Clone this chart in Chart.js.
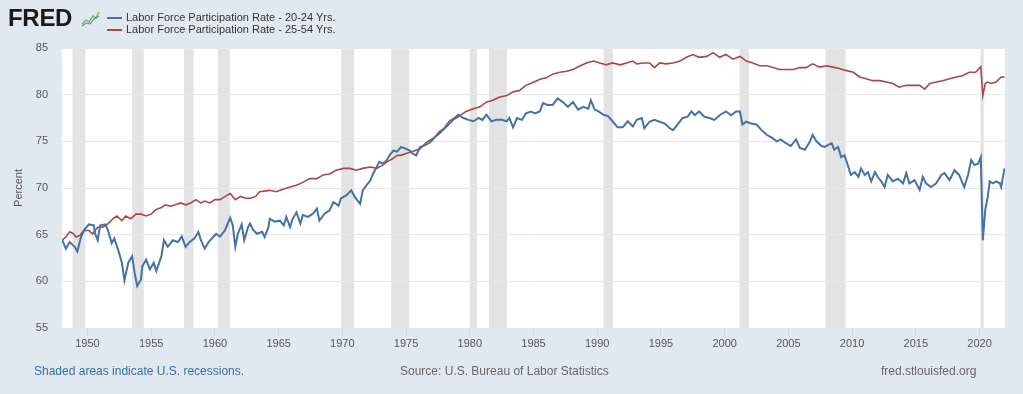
<!DOCTYPE html>
<html>
<head>
<meta charset="utf-8">
<script src="https://cdn.jsdelivr.net/npm/chart.js@4/dist/chart.umd.min.js"></script>
<style>
  html, body { margin: 0; padding: 0; }
  body { width: 1023px; height: 394px; background: #e1e9f0; font-family: "Liberation Sans", Arial, sans-serif; position: relative; overflow: hidden; }
  #chart { position: absolute; left: 0; top: 0; }
  .logo { position: absolute; left: 8px; top: 4px; font-size: 24px; font-weight: 900; color: #1a1a1a; letter-spacing: -0.3px; }
  .logo svg { position: absolute; left: 73px; top: 6px; }
  .legend { position: absolute; left: 107px; top: 12px; font-size: 11px; color: #333; line-height: 11.5px; }
  .legend div { position: relative; padding-left: 19px; white-space: nowrap; }
  .legend span { position: absolute; left: 0; top: 5px; width: 15px; height: 2px; }
  .foot { position: absolute; top: 364px; font-size: 12px; white-space: nowrap; }
</style>
</head>
<body>
<canvas id="chart" width="1023" height="394"></canvas>
<div class="logo">FRED<svg width="19" height="17" viewBox="0 0 19 17">
  <rect x="0" y="0" width="19" height="17" fill="#dfe6ee"/>
  <polyline points="1,14 5,10 8,12 12,6 15,8 18,2" fill="none" stroke="#7fb24a" stroke-width="1.3"/>
  <polyline points="1,16 5,13 9,14 13,9 18,6" fill="none" stroke="#5b86b8" stroke-width="1.1"/>
</svg></div>
<div class="legend">
  <div><span style="background:#4572a7"></span>Labor Force Participation Rate - 20-24 Yrs.</div>
  <div><span style="background:#aa4643"></span>Labor Force Participation Rate - 25-54 Yrs.</div>
</div>
<div class="foot" style="left:34px;color:#3a6ea5">Shaded areas indicate U.S. recessions.</div>
<div class="foot" style="left:400px;color:#666">Source: U.S. Bureau of Labor Statistics</div>
<div class="foot" style="left:881px;color:#666">fred.stlouisfed.org</div>

<script>
// Labor force participation rate, 20-24 yrs (decimal year / percent)
const youngYears = [1948.0, 1948.3, 1948.6, 1949.0, 1949.2, 1949.5, 1949.75, 1950.1, 1950.5, 1950.6, 1950.8, 1951.0, 1951.4, 1951.6, 1951.9, 1952.1, 1952.4, 1952.7, 1952.9, 1953.2, 1953.5, 1953.7, 1953.9, 1954.2, 1954.3, 1954.6, 1954.9, 1955.2, 1955.4, 1955.8, 1956.0, 1956.3, 1956.7, 1957.1, 1957.4, 1957.7, 1958.0, 1958.4, 1958.7, 1958.9, 1959.2, 1959.5, 1959.9, 1960.1, 1960.4, 1960.8, 1961.2, 1961.4, 1961.6, 1961.8, 1962.1, 1962.3, 1962.6, 1962.75, 1963.0, 1963.3, 1963.7, 1963.9, 1964.2, 1964.3, 1964.7, 1965.1, 1965.4, 1965.6, 1965.9, 1966.1, 1966.4, 1966.7, 1966.9, 1967.3, 1967.7, 1968.0, 1968.2, 1968.6, 1969.0, 1969.3, 1969.7, 1969.9, 1970.3, 1970.7, 1971.0, 1971.4, 1971.6, 1971.9, 1972.2, 1972.4, 1972.7, 1972.9, 1973.2, 1973.5, 1973.7, 1974.0, 1974.3, 1974.6, 1975.0, 1975.3, 1975.5, 1975.8, 1976.1, 1976.5, 1976.9, 1977.3, 1977.6, 1978.0, 1978.4, 1978.8, 1979.1, 1979.5, 1979.9, 1980.3, 1980.7, 1981.0, 1981.3, 1981.7, 1982.1, 1982.5, 1982.9, 1983.1, 1983.4, 1983.7, 1984.1, 1984.4, 1984.8, 1985.1, 1985.5, 1985.75, 1986.1, 1986.5, 1986.9, 1987.3, 1987.7, 1988.1, 1988.5, 1988.9, 1989.3, 1989.5, 1989.8, 1990.1, 1990.5, 1990.85, 1991.2, 1991.6, 1992.0, 1992.4, 1992.8, 1993.1, 1993.5, 1993.7, 1994.1, 1994.5, 1994.9, 1995.3, 1995.7, 1995.95, 1996.3, 1996.7, 1997.1, 1997.4, 1997.65, 1998.0, 1998.4, 1998.8, 1999.2, 1999.6, 2000.1, 2000.5, 2000.9, 2001.2, 2001.4, 2001.7, 2002.1, 2002.5, 2002.9, 2003.3, 2003.7, 2004.1, 2004.4, 2004.8, 2005.2, 2005.6, 2005.9, 2006.3, 2006.7, 2006.9, 2007.2, 2007.6, 2007.85, 2008.1, 2008.4, 2008.6, 2008.9, 2009.15, 2009.4, 2009.7, 2009.9, 2010.2, 2010.5, 2010.7, 2011.0, 2011.25, 2011.5, 2011.8, 2012.0, 2012.3, 2012.55, 2012.8, 2013.2, 2013.6, 2014.0, 2014.25, 2014.5, 2014.9, 2015.3, 2015.55, 2015.8, 2016.2, 2016.6, 2017.0, 2017.25, 2017.65, 2018.04, 2018.4, 2018.8, 2019.1, 2019.35, 2019.6, 2019.9, 2020.1, 2020.26, 2020.45, 2020.65, 2020.8, 2021.05, 2021.3, 2021.6, 2021.7, 2021.96];
const youngValues = [64.5, 63.5, 64.2, 63.7, 63.2, 64.8, 65.5, 66.1, 66.0, 65.1, 64.4, 66.0, 66.1, 65.5, 64.1, 64.6, 63.4, 62.0, 60.1, 62.0, 62.7, 60.9, 59.5, 60.2, 61.6, 62.3, 61.3, 62.0, 61.1, 62.7, 64.4, 63.7, 64.4, 64.2, 64.8, 63.7, 64.2, 64.6, 65.3, 64.4, 63.5, 64.2, 64.8, 65.1, 64.8, 65.5, 66.8, 66.0, 63.7, 65.1, 66.1, 64.4, 65.8, 66.2, 65.5, 65.1, 65.3, 64.75, 65.8, 66.7, 66.4, 66.5, 66.0, 66.9, 65.8, 66.7, 67.4, 66.2, 67.1, 66.9, 67.25, 67.8, 66.5, 67.25, 67.6, 68.5, 68.1, 68.9, 69.2, 69.75, 69.0, 68.3, 69.75, 70.3, 70.8, 71.5, 72.25, 72.8, 72.6, 73.0, 73.5, 74.0, 73.9, 74.4, 74.2, 74.0, 73.7, 73.5, 74.4, 74.6, 74.9, 75.5, 76.0, 76.4, 77.15, 77.5, 77.85, 77.5, 77.3, 77.15, 77.5, 77.3, 77.85, 77.15, 77.3, 77.3, 77.15, 77.5, 76.5, 77.5, 77.3, 78.0, 78.2, 78.0, 78.2, 79.1, 78.9, 78.9, 79.6, 79.2, 78.7, 79.2, 78.4, 78.7, 78.5, 79.4, 78.4, 78.2, 77.85, 77.7, 77.15, 76.5, 76.5, 77.15, 76.6, 77.3, 77.5, 76.4, 77.1, 77.3, 77.1, 76.9, 76.4, 76.2, 76.8, 77.5, 77.65, 78.2, 77.8, 78.2, 77.65, 77.5, 77.3, 77.8, 78.2, 77.8, 78.2, 78.2, 76.8, 77.1, 76.9, 76.8, 76.2, 75.7, 75.4, 75.0, 75.2, 74.8, 74.5, 75.2, 74.3, 74.1, 75.0, 75.7, 75.0, 74.5, 74.4, 74.6, 74.8, 74.1, 74.4, 73.3, 73.5, 72.3, 71.4, 71.7, 71.2, 72.1, 71.4, 71.7, 70.7, 71.7, 71.2, 70.7, 70.1, 71.4, 70.7, 71.0, 70.5, 71.6, 70.5, 70.85, 69.8, 71.2, 70.5, 70.1, 70.5, 71.4, 71.6, 70.85, 71.9, 71.4, 70.1, 71.4, 73.0, 72.45, 72.6, 73.3, 64.4, 67.65, 69.1, 70.7, 70.5, 70.7, 70.5, 70.1, 72.1];

// Labor force participation rate, 25-54 yrs
const primeYears = [1948.0, 1948.3, 1948.6, 1948.9, 1949.1, 1949.4, 1949.7, 1950.1, 1950.4, 1950.8, 1951.2, 1951.6, 1952.0, 1952.3, 1952.7, 1953.0, 1953.4, 1953.8, 1954.2, 1954.6, 1955.0, 1955.4, 1955.8, 1956.1, 1956.5, 1956.9, 1957.3, 1957.7, 1958.1, 1958.5, 1958.9, 1959.2, 1959.6, 1960.0, 1960.4, 1960.8, 1961.2, 1961.6, 1962.0, 1962.4, 1962.8, 1963.2, 1963.5, 1964.3, 1964.8, 1965.4, 1965.9, 1966.4, 1966.9, 1967.45, 1968.0, 1968.5, 1969.0, 1969.5, 1970.1, 1970.6, 1971.1, 1971.6, 1972.2, 1972.7, 1973.1, 1973.5, 1973.9, 1974.3, 1974.6, 1975.0, 1975.5, 1976.1, 1976.6, 1977.1, 1977.6, 1978.2, 1978.7, 1979.2, 1979.7, 1980.3, 1980.8, 1981.3, 1981.8, 1982.35, 1982.9, 1983.4, 1983.9, 1984.4, 1984.97, 1985.5, 1986.0, 1986.5, 1987.06, 1987.6, 1988.1, 1988.6, 1989.15, 1989.7, 1990.2, 1990.7, 1991.2, 1991.8, 1992.3, 1992.8, 1993.1, 1993.6, 1994.1, 1994.5, 1994.9, 1995.4, 1995.95, 1996.5, 1997.0, 1997.5, 1998.0, 1998.6, 1999.1, 1999.6, 2000.1, 2000.65, 2001.2, 2001.7, 2002.2, 2002.75, 2003.3, 2003.8, 2004.3, 2004.8, 2005.4, 2005.9, 2006.4, 2006.9, 2007.45, 2008.0, 2008.5, 2009.0, 2009.5, 2010.1, 2010.6, 2011.1, 2011.6, 2012.15, 2012.7, 2013.2, 2013.7, 2014.25, 2014.8, 2015.3, 2015.7, 2016.1, 2016.6, 2017.1, 2017.65, 2018.2, 2018.7, 2019.2, 2019.7, 2020.1, 2020.26, 2020.45, 2020.65, 2020.9, 2021.3, 2021.7, 2021.96];
const primeValues = [64.4, 64.75, 65.3, 65.1, 64.75, 64.9, 65.45, 65.45, 65.1, 65.8, 65.8, 66.15, 66.7, 67.0, 66.5, 67.0, 66.7, 67.2, 67.2, 67.0, 67.2, 67.7, 67.9, 68.2, 68.05, 68.2, 68.4, 68.2, 68.4, 68.75, 68.4, 68.6, 68.4, 68.75, 68.75, 69.1, 69.4, 68.75, 69.1, 68.9, 68.9, 69.1, 69.6, 69.75, 69.6, 69.9, 70.1, 70.3, 70.6, 71.0, 71.0, 71.4, 71.5, 71.9, 72.1, 72.1, 71.9, 72.1, 72.25, 72.1, 72.4, 72.8, 73.1, 73.5, 73.5, 73.7, 73.9, 74.2, 74.9, 75.3, 75.8, 76.6, 77.3, 77.7, 78.2, 78.5, 78.7, 79.2, 79.4, 79.75, 79.9, 80.3, 80.45, 81.0, 81.3, 81.65, 81.8, 82.2, 82.4, 82.5, 82.7, 83.05, 83.4, 83.6, 83.4, 83.2, 83.4, 83.2, 83.4, 83.6, 83.3, 83.4, 83.4, 82.9, 83.4, 83.3, 83.4, 83.6, 84.0, 84.3, 84.0, 84.1, 84.5, 84.0, 84.3, 83.8, 84.1, 83.6, 83.4, 83.1, 83.1, 82.9, 82.7, 82.7, 82.7, 82.9, 82.9, 83.3, 82.95, 83.1, 82.95, 82.8, 82.6, 82.4, 81.9, 81.7, 81.5, 81.5, 81.35, 81.2, 80.8, 81.0, 81.0, 81.0, 80.6, 81.2, 81.35, 81.5, 81.7, 81.9, 82.05, 82.4, 82.4, 83.0, 79.9, 81.2, 81.35, 81.2, 81.35, 81.9, 81.9];

// NBER recessions (decimal year start / end)
const recessionStarts = [1948.83, 1953.5, 1957.58, 1960.25, 1969.92, 1973.83, 1980.0, 1981.5, 1990.5, 2001.17, 2007.92, 2020.08];
const recessionEnds = [1949.83, 1954.42, 1958.33, 1961.17, 1970.92, 1975.25, 1980.58, 1982.92, 1991.25, 2001.92, 2009.5, 2020.33];

const toPoints = (xs, ys) => xs.map((x, i) => ({ x: x, y: ys[i] }));

// white plot area + recession bars, drawn before grid and lines
const backdrop = {
    id: 'backdrop',
    beforeDraw(chart) {
        const { ctx, chartArea: a, scales: { x } } = chart;
        ctx.save();
        ctx.fillStyle = '#ffffff';
        ctx.fillRect(a.left, a.top, a.right - a.left, a.bottom - a.top);
        ctx.fillStyle = '#e3e3e3';
        recessionStarts.forEach((s, i) => {
            const x0 = x.getPixelForValue(s);
            const x1 = x.getPixelForValue(recessionEnds[i]);
            ctx.fillRect(x0, a.top, x1 - x0, a.bottom - a.top);
        });
        ctx.restore();
    }
};

new Chart(document.getElementById('chart').getContext('2d'), {
    type: 'line',
    data: {
        datasets: [{
            label: 'Labor Force Participation Rate - 20-24 Yrs.',
            data: toPoints(youngYears, youngValues),
            borderColor: '#4572a7',
            borderWidth: 2,
            pointRadius: 0,
            tension: 0
        }, {
            label: 'Labor Force Participation Rate - 25-54 Yrs.',
            data: toPoints(primeYears, primeValues),
            borderColor: '#aa4643',
            borderWidth: 1.6,
            pointRadius: 0,
            tension: 0
        }]
    },
    options: {
        responsive: false,
        animation: false,
        devicePixelRatio: 1,
        layout: { padding: { left: 0, top: 48, right: 18, bottom: 42 } },
        plugins: {
            legend: { display: false },
            tooltip: { enabled: false }
        },
        scales: {
            x: {
                type: 'linear',
                min: 1948,
                max: 2022,
                afterFit: s => { s.height = 24; },
                border: { display: false },
                grid: { drawOnChartArea: false, drawTicks: true, tickLength: 8, color: '#ccd6eb' },
                ticks: {
                    stepSize: 5,
                    includeBounds: false,
                    padding: 1,
                    color: '#555',
                    font: { family: 'Liberation Sans', size: 11 },
                    maxRotation: 0,
                    callback: v => String(v)
                }
            },
            y: {
                min: 55,
                max: 85,
                afterFit: s => { s.width = 62; },
                border: { display: false },
                grid: { color: '#e8e8e8', drawTicks: false },
                ticks: {
                    stepSize: 5,
                    padding: 14,
                    color: '#555',
                    font: { family: 'Liberation Sans', size: 11 }
                },
                title: {
                    display: true,
                    text: 'Percent',
                    color: '#555',
                    padding: { top: 12, bottom: 0 },
                    font: { family: 'Liberation Sans', size: 11 }
                }
            }
        }
    },
    plugins: [backdrop]
});
</script>
</body>
</html>
